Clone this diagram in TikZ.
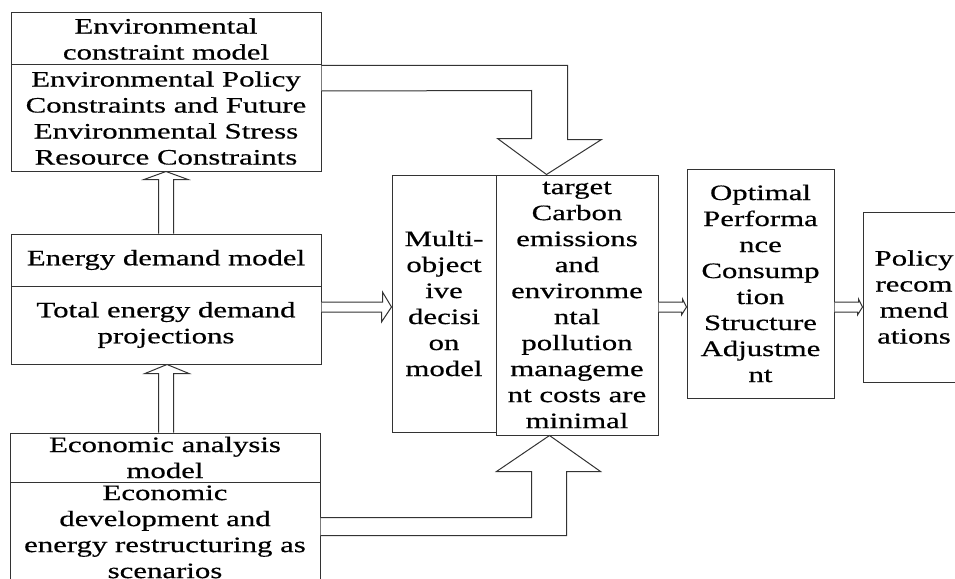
\documentclass[tikz,border=0pt]{standalone}
\usepackage{fontspec}
\usepackage{tikz}
\usetikzlibrary{calc}
\newfontfamily\boxfont{Liberation Serif}[FakeStretch=1.4,FakeBold=0.5]

\begin{document}
\begin{tikzpicture}[x=1pt,y=-1pt,
    every node/.style={rectangle,draw=black!80,line width=1pt,inner sep=0pt,align=center,
                       font=\boxfont\fontsize{22}{26}\selectfont},
    hollow/.style={draw=black!80,line width=1pt,fill=white,line join=miter}]
    \useasboundingbox (0,0) rectangle (955,578);
    \clip (0,0) rectangle (955,578);
    % left column
    \node[minimum width=310,minimum height=52] (envhead) at (166,39) {Environmental\\constraint model};
    \node[minimum width=310,minimum height=106] (envbody) at (166,118) {Environmental Policy\\Constraints and Future\\Environmental Stress\\Resource Constraints};
    \node[minimum width=310,minimum height=52] (enghead) at (166,260) {Energy demand model};
    \node[minimum width=310,minimum height=78] (engbody) at (166,325) {Total energy demand\\projections};
    \node[minimum width=310,minimum height=49] (ecohead) at (165,457.5) {Economic analysis\\model};
    \node[minimum width=310,inner ysep=3pt,anchor=north] (ecobody) at (165,482) {Economic\\development and\\energy restructuring as\\scenarios};
    % decision model and results
    \node[minimum width=104,minimum height=257] (multi) at (444,303.5) {Multi-\\object\\ive\\decisi\\on\\model};
    \node[minimum width=162,minimum height=260] (target) at (577,305) {target\\Carbon\\emissions\\and\\environme\\ntal\\pollution\\manageme\\nt costs are\\minimal};
    \node[minimum width=147,minimum height=229] (optimal) at (760.5,283.5) {Optimal\\Performa\\nce\\Consump\\tion\\Structure\\Adjustme\\nt};
    \node[minimum width=102,minimum height=170] (policy) at (914,297) {Policy\\recom\\mend\\ations};
    % hollow arrows
    \draw[hollow] ($(enghead.north)+(-7.5,0)$) |- ($(envbody.south)+(-22,8)$) -- (envbody.south)
        -- ($(envbody.south)+(22,8)$) -| ($(enghead.north)+(7.5,0)$);
    \draw[hollow] ($(ecohead.north)+(-6.5,0)$) |- ($(engbody.south)+(-21,9)$) -- ($(engbody.south)+(1,0)$)
        -- ($(engbody.south)+(23,9)$) -| ($(ecohead.north)+(8.5,0)$);
    \draw[hollow] ($(engbody.east)+(0,-23)$) -- ++(61,0) -- ++(0,-10) -- ($(multi.west)+(0,3.5)$)
        -- ++(-10,15) -- ++(0,-10) -- ($(engbody.east)+(0,-13)$);
    \draw[hollow] (envhead.south east) -- ++(246,0) -- ++(0,74) -- ++(34,0) -- ($(target.north west)+(51,0)$)
        -- ++(-49,-36) -- ++(34,0) -- ++(0,-48) -- ($(envbody.east)+(0,-27)$);
    \draw[hollow] ($(ecohead.south east)+(0,53)$) -- ++(246,0) -- ++(0,-64) -- ++(34,0) -- ($(target.south west)+(54,0)$)
        -- ++(-53,36) -- ++(35,0) -- ++(0,46) -- ($(ecohead.south east)+(0,35)$);
    \draw[hollow] ($(target.east)+(0,-3)$) -- ++(24,0) -- ++(0,-3) -- ($(optimal.west)+(0,23.5)$)
        -- ++(-5,8) -- ++(0,-3) -- ($(target.east)+(0,7)$);
    \draw[hollow] ($(optimal.east)+(0,18.5)$) -- ++(24,0) -- ++(0,-3) -- ($(policy.west)+(0,10)$)
        -- ++(-5,8) -- ++(0,-3) -- ($(optimal.east)+(0,28.5)$);
\end{tikzpicture}
\end{document}
